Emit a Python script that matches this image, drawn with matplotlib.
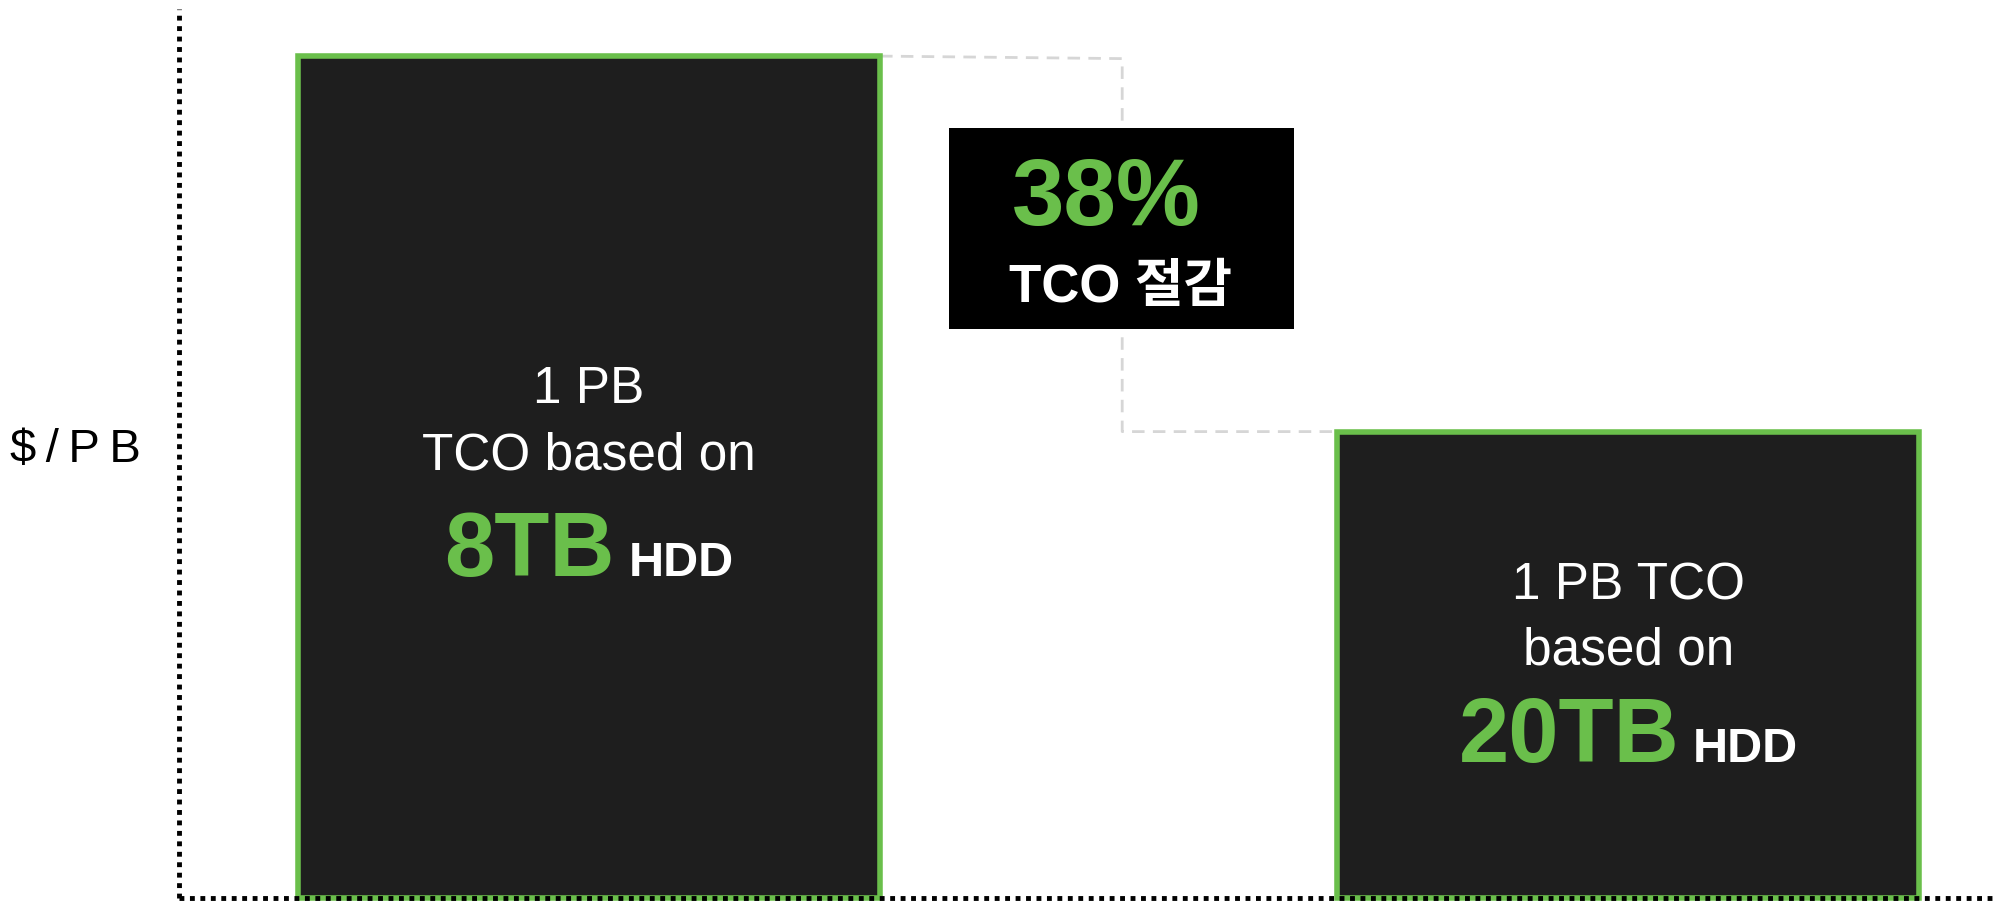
import matplotlib
matplotlib.use("Agg")
import matplotlib.pyplot as plt
from matplotlib.patches import Rectangle

plt.rcParams['font.family'] = ['Liberation Sans', 'Noto Sans CJK KR', 'DejaVu Sans']

# data
drives = ['8TB', '20TB']
tco = [100, 55.4]            # relative $/PB
line1 = ['1 PB', '1 PB TCO']
line2 = ['TCO based on', 'based on']
saving_pct = '38%'
saving_txt = 'TCO 절감'

GREEN = '#6abf4b'
FILL = '#1e1e1e'

fig = plt.figure(figsize=(19.97, 9.04), dpi=100)
ax = fig.add_axes([0.0895, 0.0055, 0.9105, 0.9835])

x = [0, 1]
bw = 0.56
ax.bar(x, tco, width=bw, color=FILL, edgecolor=GREEN, linewidth=4.0, zorder=3, clip_on=False)

ax.set_xlim(-0.3948, 1.3547)
ax.set_ylim(0, 105.6)

for s in ax.spines.values():
    s.set_visible(False)
ax.set_xticks([])
ax.set_yticks([])

# dotted axis lines
dot = dict(color='black', lw=3.5, ls=(0, (1, 1.15)), solid_capstyle='butt',
           dash_capstyle='butt', transform=ax.transAxes, clip_on=False, zorder=6)
ax.plot([0, 0], [0, 1], **dot)
ax.plot([0, 1], [0, 0], **dot)

# dashed connector between bar tops
xm = 0.513
ax.plot([x[0] + bw / 2, xm, xm, x[1] - bw / 2], [tco[0], tco[0] - 0.3, tco[1], tco[1]],
        color='#d6d6d6', lw=2.0, ls=(0, (4.5, 3)), zorder=2)

# savings box
ax.add_patch(Rectangle((0.346, 67.6), 0.332, 23.9, facecolor='black', edgecolor='none', zorder=4))
ax.text(0.498, 83.0, saving_pct, color=GREEN, fontsize=68, fontweight='bold',
        ha='center', va='center', zorder=5)
ax.text(0.511, 72.6, saving_txt, color='white', fontsize=38, fontweight='bold',
        ha='center', va='center', zorder=5)

# text inside bars
y1 = [60.5, 37.2]
y2 = [52.6, 29.4]
yb = [38.4, 16.3]
pairs = []
for i in range(2):
    ax.text(x[i], y1[i], line1[i], color='white', fontsize=37, ha='center', va='center', zorder=5)
    ax.text(x[i], y2[i], line2[i], color='white', fontsize=37, ha='center', va='center', zorder=5)
    t1 = ax.annotate(drives[i], (x[i], yb[i]), xytext=(0, 0), textcoords='offset points',
                     color=GREEN, fontsize=65, fontweight='bold', ha='right', va='baseline', zorder=5)
    t2 = ax.annotate('HDD', (x[i], yb[i]), xytext=(10, 0), textcoords='offset points',
                     color='white', fontsize=35, fontweight='bold', ha='left', va='baseline', zorder=5)
    pairs.append((t1, t2))

fig.text(0.038, 0.502, '$\u2009/\u2009P\u2009B', fontsize=34, ha='center', va='center', color='black')

# center the "8TB HDD" groups on the bars
fig.canvas.draw()
r = fig.canvas.get_renderer()
gap = 10.0
for t1, t2 in pairs:
    w1 = t1.get_window_extent(r).width * 72 / fig.dpi
    w2 = t2.get_window_extent(r).width * 72 / fig.dpi
    shift = (gap + w2 - w1) / 2
    t1.set_position((-shift, 0))
    t2.set_position((gap - shift, 0))

fig.savefig('out.png', dpi=100)
